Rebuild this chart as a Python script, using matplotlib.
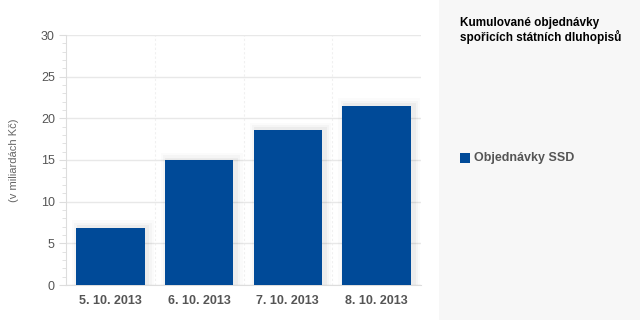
import numpy as np
import matplotlib.pyplot as plt
from matplotlib.patches import Rectangle

# data
categories = ["5. 10. 2013", "6. 10. 2013", "7. 10. 2013", "8. 10. 2013"]
values = [6.9, 15.0, 18.6, 21.5]
series_name = "Objednávky SSD"
title = "Kumulované objednávky\nspořicích státních dluhopisů"
ylabel = "(v miliardách Kč)"

blue = "#004a98"
plt.rcParams['font.family'] = ['Liberation Sans', 'DejaVu Sans']

fig = plt.figure(figsize=(6.4, 3.2), dpi=100)
fig.patch.set_facecolor("white")

# grey side panel
fig.patches.append(Rectangle((439/640, 0), 201/640, 1, transform=fig.transFigure,
                             facecolor="#f7f7f7", edgecolor="none", zorder=0))

ax = fig.add_axes([66/640, (320-285)/320, (421-66)/640, 250/320])
x = np.arange(len(categories))

# soft shadow behind bars
for i, v in enumerate(values):
    for k, a in enumerate([0.035, 0.025, 0.015]):
        d = 0.025 * (k + 1)
        ax.bar(x[i] + 0.03, v + 0.3 * (k + 1), width=0.77 + d * 2, color="black",
               alpha=a, zorder=1, linewidth=0)
ax.bar(x, values, width=0.77, color=blue, zorder=3, label=series_name)

ax.set_xlim(-0.5, len(categories) - 0.5)
ax.set_ylim(0, 30)
ax.set_yticks(range(0, 31, 5))
ax.set_yticks(np.arange(0, 30, 1), minor=True)
ax.set_xticks(x)
ax.set_xticklabels(categories, fontsize=9, fontweight="bold", color="#555555")
ax.tick_params(axis="x", length=0, pad=7)
ax.tick_params(axis="y", which="major", length=5, color="#dddddd", labelsize=9,
               labelcolor="#555555", pad=3)
ax.tick_params(axis="y", which="minor", length=3, color="#dddddd")
ax.grid(axis="y", color="#e8e8e8", linewidth=1, zorder=0)
for b in [0.5, 1.5, 2.5]:
    ax.axvline(b, color="#f0f0f0", linewidth=0.8, linestyle=(0, (2, 2)), zorder=0)
for s in ["top", "right"]:
    ax.spines[s].set_visible(False)
ax.spines["left"].set_color("#dddddd")
ax.spines["bottom"].set_color("#dddddd")
ax.set_axisbelow(True)
ax.set_ylabel(ylabel, fontsize=8, color="#666666", labelpad=16)

fig.text(460/640, 1 - 17/320, title, fontsize=8.5, fontweight="bold", color="black",
         va="top", ha="left", linespacing=1.1)

# legend
fig.patches.append(Rectangle((460/640, 1 - 163/320), 10/640, 10/320, transform=fig.transFigure,
                             facecolor=blue, edgecolor="none", zorder=2))
fig.text(474/640, 1 - 158/320, series_name, fontsize=9, fontweight="bold", color="#555555",
         va="center", ha="left")

fig.savefig("out.png", dpi=100)
